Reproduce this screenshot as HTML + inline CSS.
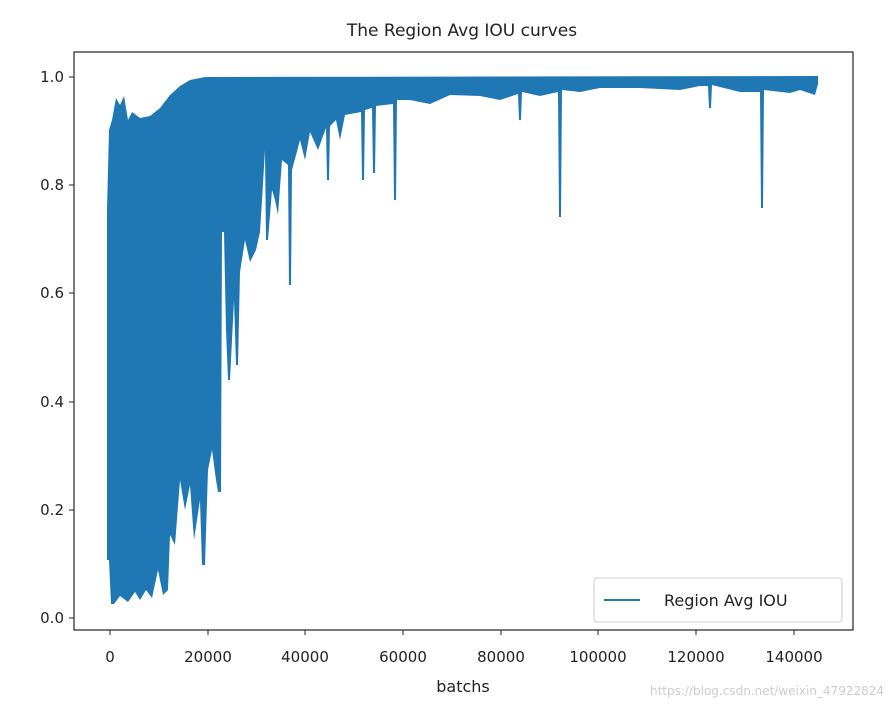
<!DOCTYPE html>
<html><head><style>body{margin:0;background:#fff}</style></head><body>
<svg width="892" height="708" xmlns="http://www.w3.org/2000/svg" font-family="DejaVu Sans, Liberation Sans, sans-serif">
<rect width="892" height="708" fill="#fff"/>
<text x="462" y="36" font-size="17" text-anchor="middle" fill="#222">The Region Avg IOU curves</text>
<polygon fill="#1f77b4" points="107,210 109,130 112,120 116,98 120,105 124,96 128,120 132,112 140,118 150,116 160,108 170,95 180,86 190,80 205,77 818,76 818,84 815,95 800,90 790,93 764,90 763,208 761,208 760,92 740,92 712,85 711,108 709,108 708,86 700,86 680,90 640,88 600,88 580,92 562,90 561,217 559,217 558,92 540,96 522,92 521,120 519,120 518,94 500,100 480,96 450,95 430,104 410,100 397,100 396,200 394,200 393,104 376,106 375,173 373,173 372,108 365,110 364,180 362,180 361,112 345,115 340,140 336,120 330,126 329,180 327,180 326,128 318,150 310,132 305,160 300,140 292,170 291,285 289,285 288,165 282,160 278,215 275,200 272,190 268,240 266,240 265,150 262,200 260,232 256,250 250,262 245,240 240,272 238,365 236,365 234,300 230,380 228,380 226,330 224,232 222,232 221,492 218,492 216,480 212,450 208,470 205,565 202,565 200,500 194,540 190,485 185,510 180,480 175,545 170,535 168,590 163,595 158,570 152,598 146,590 140,600 135,592 128,602 120,596 114,604 111,604 109,560 107,560"/>
<rect x="74" y="52" width="779" height="578" fill="none" stroke="#222" stroke-width="1.2"/>
<g stroke="#222" stroke-width="1">
<line x1="69" y1="618" x2="74" y2="618"/><line x1="69" y1="510" x2="74" y2="510"/><line x1="69" y1="402" x2="74" y2="402"/><line x1="69" y1="293" x2="74" y2="293"/><line x1="69" y1="185" x2="74" y2="185"/><line x1="69" y1="77" x2="74" y2="77"/>
<line x1="110" y1="630" x2="110" y2="635"/><line x1="208" y1="630" x2="208" y2="635"/><line x1="305" y1="630" x2="305" y2="635"/><line x1="403" y1="630" x2="403" y2="635"/><line x1="501" y1="630" x2="501" y2="635"/><line x1="598" y1="630" x2="598" y2="635"/><line x1="696" y1="630" x2="696" y2="635"/><line x1="794" y1="630" x2="794" y2="635"/>
</g>
<g font-size="15" fill="#222" text-anchor="end">
<text x="64" y="623">0.0</text><text x="64" y="515">0.2</text><text x="64" y="407">0.4</text><text x="64" y="298">0.6</text><text x="64" y="190">0.8</text><text x="64" y="82">1.0</text>
</g>
<g font-size="15" fill="#222" text-anchor="middle">
<text x="110" y="662">0</text><text x="208" y="662">20000</text><text x="305" y="662">40000</text><text x="403" y="662">60000</text><text x="501" y="662">80000</text><text x="598" y="662">100000</text><text x="696" y="662">120000</text><text x="794" y="662">140000</text>
<text x="463" y="692" font-size="16">batchs</text>
</g>
<rect x="594" y="578" width="248" height="44" rx="3" fill="#fff" stroke="#ccc"/>
<line x1="604" y1="600" x2="640" y2="600" stroke="#1f77b4" stroke-width="2"/>
<text x="664" y="606" font-size="16" fill="#222">Region Avg IOU</text>
<text x="884" y="695" font-size="12" fill="#ccc" text-anchor="end">https://blog.csdn.net/weixin_47922824</text>
</svg>
</body></html>
